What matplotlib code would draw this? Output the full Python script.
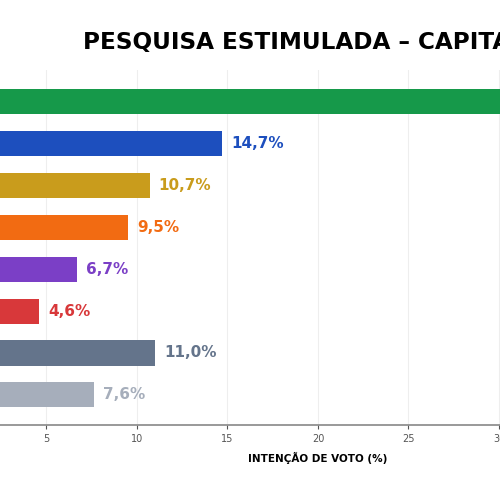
import matplotlib
matplotlib.use("Agg")
import matplotlib.pyplot as plt

# values (top bar is cut off, estimated)
values = [38.0, 14.7, 10.7, 9.5, 6.7, 4.6, 11.0, 7.6]
labels = ["38,0%", "14,7%", "10,7%", "9,5%", "6,7%", "4,6%", "11,0%", "7,6%"]
colors = ["#16994a", "#1d4fbe", "#c99c1c", "#f26b12", "#7b3fc6", "#d8383a", "#64748b", "#a6aebb"]
xticks = [5, 10, 15, 20, 25, 30, 35]

fig = plt.figure(figsize=(5, 5), dpi=100)
# the reference is a crop of a wider chart, so the axes run past the figure edges
ax = fig.add_axes([-44/500, 75/500, 724/500, 355/500])

pos = list(range(len(values)))
ax.barh(pos, values, height=0.6, color=colors, zorder=3)
for p, v, lab, c in zip(pos, values, labels, colors):
    ax.text(v + 0.5, p, lab, va="center", ha="left", fontsize=11,
            fontweight="bold", color=c)

ax.set_xlim(0, 40)
ax.set_ylim(7.72, -0.76)
ax.set_xticks(xticks)
ax.set_yticks([])
ax.tick_params(axis="x", labelsize=7, colors="#555555", length=3)
ax.grid(axis="x", color="#eeeeee", linewidth=0.8, zorder=0)
for s in ["top", "right", "left"]:
    ax.spines[s].set_visible(False)
ax.spines["bottom"].set_color("#888888")
ax.spines["bottom"].set_linewidth(1.2)
ax.set_xlabel("INTENÇÃO DE VOTO (%)", fontsize=7.5, fontweight="bold", labelpad=6)

fig.text(83/500, 1 - 42/500, "PESQUISA ESTIMULADA – CAPITAL", fontsize=16.7,
         fontweight="bold", ha="left", va="center")

fig.savefig("out.png", dpi=100)
